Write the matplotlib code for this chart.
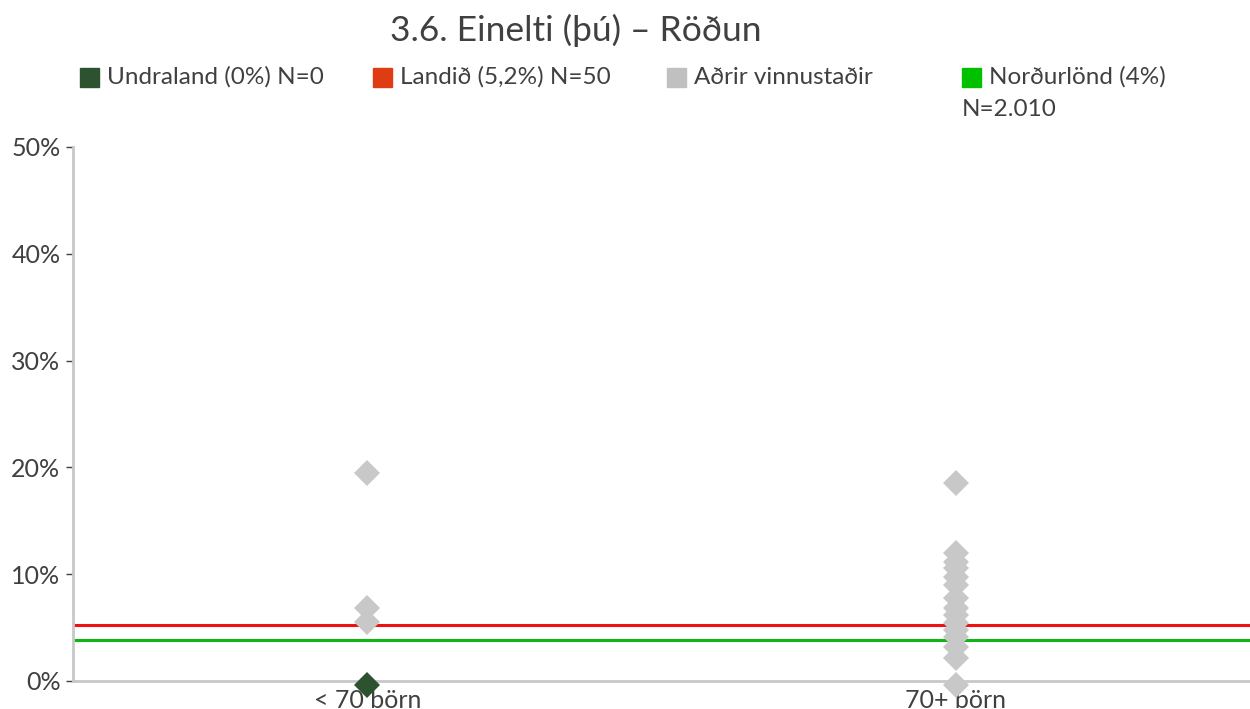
import matplotlib
matplotlib.use("Agg")
import matplotlib.pyplot as plt
from matplotlib.patches import Rectangle

# data
categories = ["< 70 börn", "70+ börn"]
others_small = [19.5, 6.8, 5.5]
others_large = [18.5, 12.0, 11.1, 10.6, 9.7, 9.0, 7.8, 6.8, 6.2, 5.4, 4.8, 4.1, 3.2, 2.2, -0.4]
undraland = [-0.4]          # only in "< 70 börn", drawn just under the axis
landid = 5.2
nordurlond = 3.8

legend_labels = ["Undraland (0%) N=0", "Landið (5,2%) N=50", "Aðrir vinnustaðir",
                 "Norðurlönd (4%)\nN=2.010"]
legend_colors = ["#2d5230", "#e03c14", "#c0c0c0", "#00c000"]

plt.rcParams['font.family'] = ['Lato', 'DejaVu Sans']
txt = "#404040"
grey = "#c8c8c8"

fig = plt.figure(figsize=(12.5, 7.09), dpi=100)
ax = fig.add_axes([73/1250, (709-681)/709, 1177/1250, (681-147)/709])

ax.axhline(landid, color="#ee1111", lw=2.2, zorder=2)
ax.axhline(nordurlond, color="#11b511", lw=2.2, zorder=2)

ax.plot([0]*len(others_small), others_small, "D", color=grey, ms=13.5, mew=0,
        zorder=3, clip_on=False)
ax.plot([1]*len(others_large), others_large, "D", color=grey, ms=13.5, mew=0,
        zorder=3, clip_on=False)
ax.plot([0]*len(undraland), undraland, "D", color=legend_colors[0], ms=13.5, mew=0,
        zorder=4, clip_on=False)

ax.set_xlim(-0.5, 1.5)
ax.set_ylim(0, 50)
ax.set_yticks([0, 10, 20, 30, 40, 50])
ax.set_yticklabels([f"{v}%" for v in [0, 10, 20, 30, 40, 50]])
ax.set_xticks([0, 1])
ax.set_xticklabels(categories)
ax.tick_params(axis="y", length=5, width=1, color=txt, labelcolor=txt,
               labelsize=18, pad=4)
ax.tick_params(axis="x", length=0, labelcolor=txt, labelsize=18, pad=6)

for s in ["top", "right"]:
    ax.spines[s].set_visible(False)
for s in ["left", "bottom"]:
    ax.spines[s].set_color(grey)
    ax.spines[s].set_linewidth(2)

fig.text(576/1250, 1 - 30/709, "3.6. Einelti (þú) – Röðun", ha="center", va="center",
         fontsize=25.5, color=txt)

# legend drawn by hand
leg_x = [80, 373, 667, 962]
for x, lab, c in zip(leg_x, legend_labels, legend_colors):
    fig.patches.append(Rectangle((x/1250, 1 - 87/709), 19/1250, 19/709,
                                 transform=fig.transFigure, color=c))
    if "\n" in lab:
        first, second = lab.split("\n")
        fig.text((x + 27)/1250, 1 - 77/709, first, va="center", fontsize=17.5, color=txt)
        fig.text(x/1250, 1 - 110/709, second, va="center", fontsize=17.5, color=txt)
    else:
        fig.text((x + 27)/1250, 1 - 77/709, lab, va="center", fontsize=17.5, color=txt)

fig.savefig("out.png", dpi=100)
